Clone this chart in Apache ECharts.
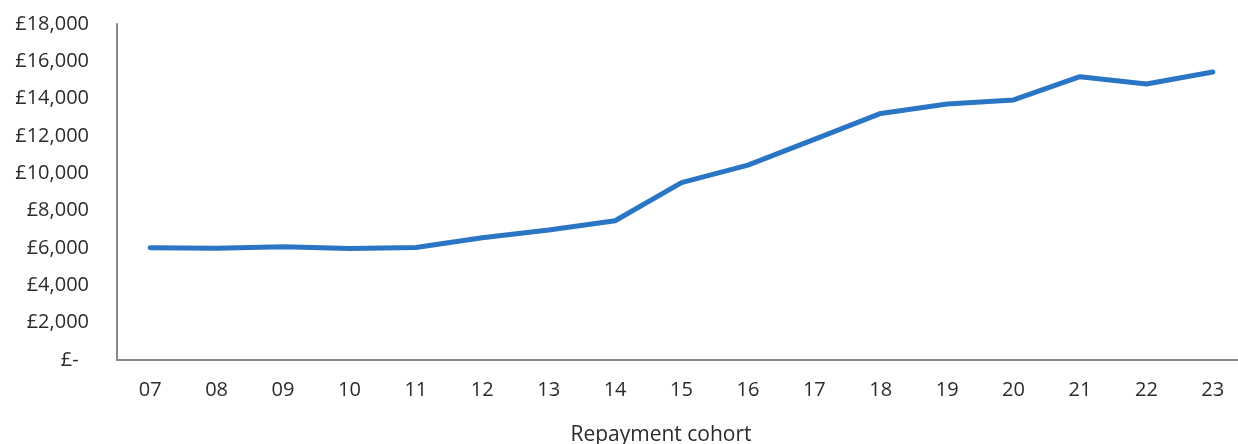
<!DOCTYPE html>
<html>
<head>
<meta charset="utf-8">
<script src="https://cdn.jsdelivr.net/npm/echarts@6/dist/echarts.min.js"></script>
<style>
html,body{margin:0;padding:0;background:#fff;overflow:hidden;}
#chart{width:1247px;height:444px;}
</style>
</head>
<body>
<div id="chart"></div>
<script>
const categories = ['07','08','09','10','11','12','13','14','15','16','17','18','19','20','21','22','23'];
const values = [6020, 5980, 6070, 5970, 6030, 6550, 6960, 7460, 9500, 10440, 11820, 13210, 13710, 13930, 15180, 14790, 15430];
const axisTitle = 'Repayment cohort';

const chart = echarts.init(document.getElementById('chart'), null, {renderer: 'canvas'});
const font = '"Open Sans", sans-serif';
chart.setOption({
  animation: false,
  backgroundColor: '#ffffff',
  title: {
    text: axisTitle,
    left: 656,
    top: 420,
    textAlign: 'center',
    textStyle: {fontFamily: font, fontSize: 21, fontWeight: 'normal', color: '#2b2b2b'}
  },
  grid: {left: 117, top: 24, width: 1129, height: 336, containLabel: false},
  xAxis: {
    type: 'category',
    data: categories,
    boundaryGap: true,
    axisLine: {lineStyle: {color: '#8a8a8a', width: 2}},
    axisTick: {show: false},
    axisLabel: {fontFamily: font, fontSize: 20, color: '#2b2b2b', margin: 20}
  },
  yAxis: {
    type: 'value',
    min: 0,
    max: 18000,
    interval: 2000,
    axisLine: {show: true, lineStyle: {color: '#8a8a8a', width: 2}},
    axisTick: {show: false},
    splitLine: {show: false},
    axisLabel: {
      fontFamily: font, fontSize: 20, color: '#2b2b2b', margin: 28,
      formatter: v => v === 0 ? '£-  ' : '£' + v.toLocaleString('en-GB')
    }
  },
  series: [{
    type: 'line',
    data: values,
    symbol: 'none',
    lineStyle: {color: '#2a75c4', width: 5, cap: 'round', join: 'round'}
  }]
});
</script>
</body>
</html>
